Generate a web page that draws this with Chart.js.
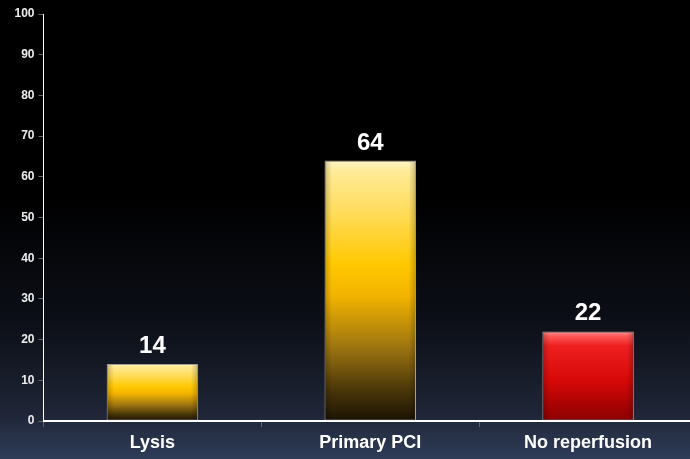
<!DOCTYPE html>
<html>
<head>
<meta charset="utf-8">
<script src="https://cdn.jsdelivr.net/npm/chart.js@4.4.1/dist/chart.umd.min.js"></script>
<style>
  html, body { margin: 0; padding: 0; background: #000; overflow: hidden; }
  #wrap { width: 697px; height: 459px; }
</style>
</head>
<body>
<div id="wrap"><canvas id="myChart" width="697" height="459"></canvas></div>
<script>
const categories = ["Lysis", "Primary PCI", "No reperfusion"];
const values = [14, 64, 22];
const barKinds = ["gold", "gold", "red"];
const yTicks = [0, 10, 20, 30, 40, 50, 60, 70, 80, 90, 100];

const FONT = "'Liberation Sans', Arial, sans-serif";

// stops for the vertical shading of each bar (top -> bottom)
const stops = {
  gold: [[0, "#fff6c8"], [0.04, "#ffeb98"], [0.2, "#ffdc5a"], [0.4, "#ffc800"], [0.52, "#f2b300"],
         [0.72, "#9c7410"], [0.88, "#4a3608"], [1, "#1a1204"]],
  red: [[0, "#ff9a9a"], [0.05, "#ff5a5a"], [0.16, "#ee2020"], [0.55, "#d60808"], [1, "#8a0000"]]
};

function barFill(ctx) {
  const chart = ctx.chart;
  const y = chart.scales.y;
  if (!chart.chartArea || !y) return "#f7c800";
  const top = y.getPixelForValue(values[ctx.dataIndex]);
  const bottom = y.getPixelForValue(0);
  const g = chart.ctx.createLinearGradient(0, top, 0, bottom);
  stops[barKinds[ctx.dataIndex]].forEach(s => g.addColorStop(s[0], s[1]));
  return g;
}

// slide background: black top fading to navy at the bottom
const backdrop = {
  id: "backdrop",
  beforeDraw(chart) {
    const c = chart.ctx;
    const g = c.createLinearGradient(0, 0, 0, chart.height);
    g.addColorStop(0, "#000000");
    g.addColorStop(0.42, "#000000");
    g.addColorStop(0.7, "#0c0f17");
    g.addColorStop(0.9, "#1f2536");
    g.addColorStop(1, "#2f3d59");
    c.save();
    c.fillStyle = g;
    c.fillRect(0, 0, chart.width, chart.height);
    c.restore();
  }
};

// darker side edges on the bars, then the numbers above them
const barLabels = {
  id: "barLabels",
  afterDatasetsDraw(chart) {
    const c = chart.ctx;
    const meta = chart.getDatasetMeta(0);
    c.save();
    meta.data.forEach((bar, i) => {
      const w = bar.width;
      const left = bar.x - w / 2;
      const g = c.createLinearGradient(left, 0, left + w, 0);
      g.addColorStop(0, "rgba(0,0,0,0.22)");
      g.addColorStop(0.08, "rgba(0,0,0,0)");
      g.addColorStop(0.92, "rgba(0,0,0,0)");
      g.addColorStop(1, "rgba(0,0,0,0.22)");
      c.fillStyle = g;
      c.fillRect(left + 1, bar.y + 1, w - 2, bar.base - bar.y - 2);

      c.fillStyle = "#ffffff";
      c.font = "bold 24px " + FONT;
      c.textAlign = "center";
      c.textBaseline = "alphabetic";
      c.fillText(String(values[i]), bar.x, bar.y - 11);
    });
    c.restore();
  }
};

new Chart("myChart", {
  type: "bar",
  data: {
    labels: categories,
    datasets: [{
      data: values,
      backgroundColor: barFill,
      borderColor: "rgba(215,200,190,0.75)",
      borderWidth: 1,
      borderSkipped: false,
      categoryPercentage: 1,
      barPercentage: 0.42
    }]
  },
  options: {
    responsive: false,
    animation: false,
    layout: { padding: { top: 14, right: 0, bottom: 0, left: 0 } },
    plugins: { legend: { display: false }, tooltip: { enabled: false } },
    scales: {
      x: {
        grid: { display: true, drawOnChartArea: false, tickLength: 6, color: "#5a6478", offset: true },
        border: { color: "#ffffff", width: 2 },
        ticks: { color: "#ffffff", font: { family: FONT, size: 18, weight: "bold" }, padding: 5 },
        afterFit(scale) { scale.height = 38; }
      },
      y: {
        min: 0,
        max: 100,
        afterBuildTicks(scale) { scale.ticks = yTicks.map(v => ({ value: v })); },
        grid: { display: true, drawOnChartArea: false, tickLength: 5, color: "#666666" },
        border: { color: "#ffffff", width: 1 },
        ticks: { color: "#eeeeee", font: { family: FONT, size: 12, weight: "bold" }, padding: 4 },
        afterFit(scale) { scale.width = 43.5; }
      }
    }
  },
  plugins: [backdrop, barLabels]
});
</script>
</body>
</html>
